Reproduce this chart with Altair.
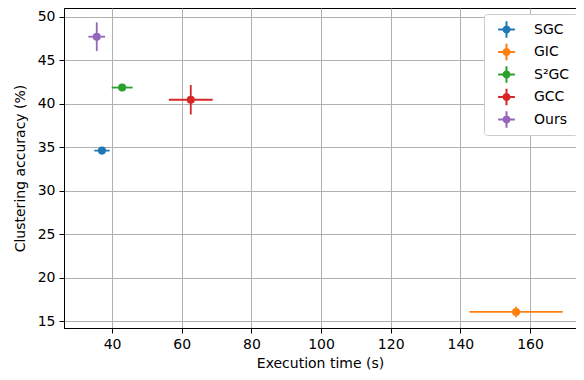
import altair as alt
import pandas as pd

methods = ["SGC", "GIC", "S²GC", "GCC", "Ours"]
time_s = [37.1, 156.0, 42.9, 62.6, 35.6]
time_err = [2.2, 13.4, 3.0, 6.3, 2.4]
accuracy = [34.6, 16.05, 41.85, 40.45, 47.7]
acc_err = [0.2, 0.6, 0.25, 1.7, 1.65]
colors = ["#1f77b4", "#ff7f0e", "#2ca02c", "#d62728", "#9467bd"]
x_ticks = [40, 60, 80, 100, 120, 140, 160]
y_ticks = [15, 20, 25, 30, 35, 40, 45, 50]

df = pd.DataFrame({
    "method": methods,
    "t": time_s,
    "t_lo": [a - b for a, b in zip(time_s, time_err)],
    "t_hi": [a + b for a, b in zip(time_s, time_err)],
    "acc": accuracy,
    "acc_lo": [a - b for a, b in zip(accuracy, acc_err)],
    "acc_hi": [a + b for a, b in zip(accuracy, acc_err)],
})

FONT = "DejaVu Sans"
FS = 14
xscale = alt.Scale(domain=[26.2, 173.2], nice=False, zero=False)
yscale = alt.Scale(domain=[14.2, 51.0], nice=False, zero=False)
cscale = alt.Scale(domain=methods, range=colors)

base = alt.Chart(df)

xaxis = alt.Axis(title="Execution time (s)", values=x_ticks)
yaxis = alt.Axis(title="Clustering accuracy (%)", values=y_ticks)

hbar = base.mark_rule(strokeWidth=1.8).encode(
    x=alt.X("t_lo:Q", scale=xscale, axis=xaxis),
    x2="t_hi:Q",
    y=alt.Y("acc:Q", scale=yscale, axis=yaxis),
    color=alt.Color("method:N", scale=cscale, legend=None),
)
vbar = base.mark_rule(strokeWidth=1.8).encode(
    x=alt.X("t:Q", scale=xscale),
    y=alt.Y("acc_lo:Q", scale=yscale),
    y2="acc_hi:Q",
    color=alt.Color("method:N", scale=cscale, legend=None),
)

# filled plus-with-dot legend symbol (unit coordinates)
symbol = (
    "M-1,-0.12H1V0.12H-1Z"
    "M-0.12,-1H0.12V1H-0.12Z"
    "M0.48,0A0.48,0.48,0,1,1,-0.48,0A0.48,0.48,0,1,1,0.48,0Z"
)

points = base.mark_circle(size=65, opacity=1).encode(
    x=alt.X("t:Q", scale=xscale),
    y=alt.Y("acc:Q", scale=yscale),
    color=alt.Color(
        "method:N",
        scale=cscale,
        sort=methods,
        legend=alt.Legend(
            title=None,
            orient="none",
            legendX=420,
            legendY=6,
            symbolType=symbol,
            symbolSize=280,
            symbolStrokeWidth=0,
            symbolOpacity=1,
            symbolOffset=7,
            labelFont=FONT,
            labelFontSize=FS,
            labelColor="black",
            labelOffset=19,
            rowPadding=5.5,
            padding=7,
            fillColor="white",
            strokeColor="#cccccc",
            cornerRadius=3,
        ),
    ),
)

chart = (
    alt.layer(hbar, vbar, points)
    .resolve_legend(color="independent")
    .properties(
        width=512,
        height=320,
        autosize=alt.AutoSizeParams(type="none"),
        padding={"left": 56, "top": 0, "right": 0, "bottom": 44},
    )
    .configure_axis(
        labelFont=FONT,
        titleFont=FONT,
        labelFontSize=FS,
        titleFontSize=FS,
        titleFontWeight="normal",
        labelColor="black",
        titleColor="black",
        domainColor="black",
        tickColor="black",
        tickSize=5,
        gridColor="#b0b0b0",
        gridWidth=1,
        labelPadding=4,
    )
    .configure_axisY(titlePadding=10)
    .configure_axisX(titlePadding=5)
    .configure_view(stroke="black", strokeWidth=1)
)

chart.save("out.html", embed_options={"renderer": "svg", "actions": False})
